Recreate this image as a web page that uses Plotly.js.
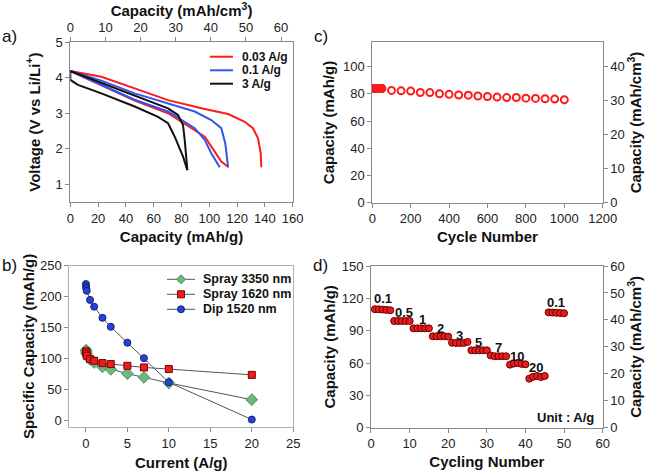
<!DOCTYPE html>
<html>
<head>
<meta charset="utf-8">
<script src="https://cdn.plot.ly/plotly-3.0.1.min.js"></script>
<style>html,body{margin:0;padding:0;background:#fff;}#chart{width:647px;height:473px;}</style>
</head>
<body>
<div id="chart"></div>
<script>
// ---------- Panel a: voltage profiles ----------
var aRed1X = [0, 10, 22.3, 46.3, 70.3, 94.3, 113.5, 125.5, 131.4, 135, 137, 137.4];
var aRed1Y = [4.19, 4.12, 4.03, 3.70, 3.37, 3.14, 2.98, 2.76, 2.58, 2.30, 1.87, 1.48];
var aRed2X = [0, 22.3, 46.3, 70.3, 79.9, 89.5, 96.7, 103.9, 108.6, 113.9];
var aRed2Y = [4.19, 3.78, 3.36, 3.00, 2.76, 2.53, 2.34, 1.92, 1.64, 1.48];
var aBlue1X = [0, 22.3, 46.3, 70.3, 89.5, 101.4, 108.6, 111.5, 113.5];
var aBlue1Y = [4.19, 3.92, 3.56, 3.28, 3.05, 2.81, 2.58, 2.15, 1.48];
var aBlue2X = [0, 22.3, 46.3, 70.3, 79.9, 89.5, 96.7, 101.4, 107.5];
var aBlue2Y = [4.19, 3.80, 3.38, 3.05, 2.81, 2.58, 2.25, 1.87, 1.48];
var aBlack1X = [0, 22.3, 46.3, 70.3, 77.5, 81.1, 82.3, 84.2];
var aBlack1Y = [4.19, 3.85, 3.49, 3.14, 2.95, 2.67, 2.25, 1.40];
var aBlack2X = [0, 0, 5.5, 22.3, 46.3, 63.1, 70.3, 75.1, 81.1, 84.2];
var aBlack2Y = [4.19, 3.94, 3.80, 3.56, 3.19, 2.90, 2.72, 2.34, 1.78, 1.40];
var aLegend = ["0.03 A/g", "0.1 A/g", "3 A/g"];

// ---------- Panel b: rate capability ----------
var bGreenX = [0.03, 0.05, 0.1, 0.5, 1, 2, 3, 5, 7, 10, 20];
var bGreenY = [114, 111, 108, 99, 94, 87, 83, 76, 70, 61, 34];
var bRedX = [0.03, 0.05, 0.1, 0.5, 1, 2, 3, 5, 7, 10, 20];
var bRedY = [112, 108.6, 105, 99.5, 96.8, 93, 91.4, 88.7, 86, 83.4, 74];
var bBlueX = [0.01, 0.03, 0.05, 0.1, 0.5, 1, 2, 3, 5, 7, 10, 20];
var bBlueY = [220.5, 216.6, 213.4, 209.7, 195, 184, 166, 151.6, 126, 101, 62, 2];
var bNames = ["Spray 3350 nm", "Spray 1620 nm", "Dip 1520 nm"];

// ---------- Panel c: cycling ----------
var cCycle = [1, 4, 7, 10, 13, 16, 19, 22, 25, 28, 31, 34, 37, 40, 43, 46, 50,
  100, 150, 200, 250, 300, 350, 400, 450, 500, 550, 600, 650, 700, 750, 800, 850, 900, 950, 1000];
var cCap = [84, 84, 84, 84, 84, 84, 84, 84, 84, 84, 84, 84, 84, 84, 84, 84, 84,
  82.6, 82.3, 82.1, 81.1, 81.0, 80.1, 79.7, 79.2, 79.1, 78.5, 78.1, 77.7, 77.3, 77.4, 76.9, 76.7, 76.5, 76.2, 75.7];

// ---------- Panel d: rate cycling ----------
var dCycle = [1,2,3,4,5,6,7,8,9,10,11,12,13,14,15,16,17,18,19,20,21,22,23,24,25,
  26,27,28,29,30,31,32,33,34,35,36,37,38,39,40,41,42,43,44,45,46,47,48,49,50];
var dCap = [110,109.8,109.6,109.3,109, 99,99,99,99,99, 92.2,92.2,92.2,92.2,92.2,
  84.8,84.8,84.8,84.8,84.5, 78.8,78.6,78.6,78.6,79.6, 71.8,71.8,71.8,71.8,71.8,
  67,66.3,66.3,66.3,66.3, 58.5,59.5,60,59.2,58.8, 45.5,47.2,48,47,48,
  107,106.8,106.6,106.4,106.2];
var dRateLabels = ["0.1", "0.5", "1", "2", "3", "5", "7", "10", "20", "0.1"];
var dRateX = [3.2, 8.5, 13.3, 17.9, 22.9, 27.8, 33, 37.9, 42.7, 47.9];
var dRateY = [120, 106.7, 100.5, 91.9, 85.7, 78.9, 74.6, 66.5, 56, 116];

var W = 647, H = 473;
function px(X){ return X / W; }
function py(Y){ return 1 - Y / H; }

var FONT = "Liberation Sans, Arial, sans-serif";
var tickFont = {family: FONT, size: 13, color: "#222"};
var titleFont = {family: FONT, size: 15, color: "#111", weight: "bold"};
var axisBase = {
  showgrid: false, zeroline: false, showline: true, linecolor: "#8a8a8a", linewidth: 1,
  ticks: "outside", ticklen: 4, tickcolor: "#8a8a8a", tickfont: tickFont, automargin: false
};
function ax(o){ var r = {}; for (var k in axisBase) r[k] = axisBase[k]; for (var k2 in o) r[k2] = o[k2]; return r; }

var RED = "#ff1a1a", BLUE = "#3355ee", BLACK = "#111111";

var traces = [
  {x: aRed1X, y: aRed1Y, xaxis: "x", yaxis: "y", mode: "lines", line: {color: RED, width: 2}},
  {x: aRed2X, y: aRed2Y, xaxis: "x", yaxis: "y", mode: "lines", line: {color: RED, width: 2}},
  {x: aBlue1X, y: aBlue1Y, xaxis: "x", yaxis: "y", mode: "lines", line: {color: BLUE, width: 2}},
  {x: aBlue2X, y: aBlue2Y, xaxis: "x", yaxis: "y", mode: "lines", line: {color: BLUE, width: 2}},
  {x: aBlack1X, y: aBlack1Y, xaxis: "x", yaxis: "y", mode: "lines", line: {color: BLACK, width: 2}},
  {x: aBlack2X, y: aBlack2Y, xaxis: "x", yaxis: "y", mode: "lines", line: {color: BLACK, width: 2}},
  {x: [], y: [], xaxis: "x5", yaxis: "y", mode: "lines"},
  // panel c
  {x: cCycle, y: cCap, xaxis: "x2", yaxis: "y2", mode: "markers",
   marker: {symbol: "circle-open", size: 7, color: RED, line: {width: 2, color: RED}}},
  {x: [], y: [], xaxis: "x2", yaxis: "y6", mode: "markers"},
  // panel b
  {x: bGreenX, y: bGreenY, name: bNames[0], xaxis: "x3", yaxis: "y3", mode: "lines+markers",
   line: {color: "#555", width: 1}, marker: {symbol: "diamond", size: 9, color: "#6db77f", line: {color: "#4d8f5d", width: 1}}},
  {x: bRedX, y: bRedY, name: bNames[1], xaxis: "x3", yaxis: "y3", mode: "lines+markers",
   line: {color: "#555", width: 1}, marker: {symbol: "square", size: 7, color: "#ee1c1c", line: {color: "#7a0000", width: 1}}},
  {x: bBlueX, y: bBlueY, name: bNames[2], xaxis: "x3", yaxis: "y3", mode: "lines+markers",
   line: {color: "#555", width: 1}, marker: {symbol: "circle", size: 7, color: "#2244dd", line: {color: "#16206e", width: 1}}},
  // panel d
  {x: dCycle, y: dCap, xaxis: "x4", yaxis: "y4", mode: "markers",
   marker: {symbol: "circle", size: 7, color: "#e81c1c", line: {color: "#6a0000", width: 1}}},
  {x: [], y: [], xaxis: "x4", yaxis: "y7", mode: "markers"}
];

var layout = {
  width: W, height: H, showlegend: false,
  margin: {l: 0, r: 0, t: 0, b: 0},
  paper_bgcolor: "#fff", plot_bgcolor: "#fff",
  font: {family: FONT, color: "#222"},
  // panel a
  xaxis: ax({domain: [0.1087, 0.4524], anchor: "y", range: [0, 160], dtick: 20, tick0: 0,
    title: {text: "Capacity (mAh/g)", font: titleFont, standoff: 6}}),
  yaxis: ax({domain: [0.5729, 0.9106], anchor: "x", range: [0.5, 5], dtick: 1, tick0: 0, mirror: true,
    title: {text: "Voltage (V vs Li/Li<sup>+</sup>)", font: titleFont, standoff: 11}}),
  xaxis5: ax({overlaying: "x", side: "top", anchor: "y", range: [0, 63.33], dtick: 10, tick0: 0,
    title: {text: "Capacity (mAh/cm<sup>3</sup>)", font: titleFont, standoff: 0}}),
  // panel c
  xaxis2: ax({domain: [0.5754, 0.9315], anchor: "y2", range: [0, 1200], dtick: 200, tick0: 0, mirror: true,
    title: {text: "Cycle Number", font: titleFont, standoff: 6}}),
  yaxis2: ax({domain: [0.5715, 0.9106], anchor: "x2", range: [0, 118], dtick: 20, tick0: 0,
    title: {text: "Capacity (mAh/g)", font: titleFont, standoff: 4}}),
  yaxis6: ax({overlaying: "y2", side: "right", anchor: "x2", range: [0, 47.2], dtick: 10, tick0: 0,
    title: {text: "Capacity (mAh/cm<sup>3</sup>)", font: titleFont, standoff: 6}}),
  // panel b
  xaxis3: ax({domain: [0.1071, 0.4533], anchor: "y3", range: [-2, 25], dtick: 5, tick0: 0, mirror: true,
    linecolor: "#b0b0b0", title: {text: "Current (A/g)", font: titleFont, standoff: 7}}),
  yaxis3: ax({domain: [0.0973, 0.4381], anchor: "x3", range: [-10, 250], dtick: 50, tick0: 0, mirror: true,
    linecolor: "#b0b0b0", title: {text: "Specific Capacity (mAh/g)", font: titleFont, standoff: 1}}),
  // panel d
  xaxis4: ax({domain: [0.5734, 0.9315], anchor: "y4", range: [0, 60], dtick: 10, tick0: 0, mirror: true,
    title: {text: "Cycling Number", font: titleFont, standoff: 6}}),
  yaxis4: ax({domain: [0.0958, 0.4376], anchor: "x4", range: [0, 150], dtick: 30, tick0: 0,
    title: {text: "Capacity (mAh/g)", font: titleFont, standoff: 2}}),
  yaxis7: ax({overlaying: "y4", side: "right", anchor: "x4", range: [0, 60], dtick: 10, tick0: 0,
    title: {text: "Capacity (mAh/cm<sup>3</sup>)", font: titleFont, standoff: 6}}),
  shapes: [],
  annotations: []
};

// panel labels
var panelLabels = ["a)", "c)", "b)", "d)"];
var panelPos = [[9, 36.5], [321, 36.5], [9, 265.7], [320, 265.5]];
panelLabels.forEach(function(t, i){
  layout.annotations.push({text: t, xref: "paper", yref: "paper", x: px(panelPos[i][0]), y: py(panelPos[i][1]),
    xanchor: "center", yanchor: "middle", showarrow: false, font: {family: FONT, size: 17, color: "#111"}});
});

// panel a legend (manual)
var aLegColors = [RED, BLUE, BLACK];
var aLegRows = [56.7, 70.3, 83.7];
aLegend.forEach(function(t, i){
  layout.shapes.push({type: "line", xref: "paper", yref: "paper", x0: px(210), x1: px(233),
    y0: py(aLegRows[i]), y1: py(aLegRows[i]), line: {color: aLegColors[i], width: 2}});
  layout.annotations.push({text: t, xref: "paper", yref: "paper", x: px(240), y: py(aLegRows[i]),
    xanchor: "left", yanchor: "middle", showarrow: false,
    font: {family: FONT, size: 12, color: "#111", weight: "bold"}});
});

// panel b legend (manual)
var bLegRows = [279.3, 294.3, 309.3];
var bLegMarkers = [
  {type: "path", fill: "#6db77f", line: "#4d8f5d"},
  {type: "rect", fill: "#ee1c1c", line: "#7a0000"},
  {type: "circle", fill: "#2244dd", line: "#16206e"}
];
bNames.forEach(function(t, i){
  var yy = py(bLegRows[i]);
  layout.shapes.push({type: "line", xref: "paper", yref: "paper", x0: px(167), x1: px(195),
    y0: yy, y1: yy, line: {color: "#555", width: 1}});
  var m = bLegMarkers[i];
  var s = {type: m.type, xref: "paper", yref: "paper", xsizemode: "pixel", ysizemode: "pixel",
    xanchor: px(181), yanchor: yy, fillcolor: m.fill, line: {color: m.line, width: 1}};
  if (m.type === "path") { s.path = "M0,4.5 L4.5,0 L0,-4.5 L-4.5,0 Z"; }
  else { s.x0 = -3.5; s.x1 = 3.5; s.y0 = -3.5; s.y1 = 3.5; }
  layout.shapes.push(s);
  layout.annotations.push({text: t, xref: "paper", yref: "paper", x: px(201), y: yy,
    xanchor: "left", yanchor: "middle", showarrow: false,
    font: {family: FONT, size: 12.5, color: "#111", weight: "bold"}});
});

// panel d rate labels
dRateLabels.forEach(function(t, i){
  layout.annotations.push({text: t, xref: "x4", yref: "y4", x: dRateX[i], y: dRateY[i],
    xanchor: "center", yanchor: "middle", showarrow: false,
    font: {family: FONT, size: 13, color: "#111", weight: "bold"}});
});
layout.annotations.push({text: "Unit : A/g", xref: "x4", yref: "y4", x: 50.3, y: 9.6,
  xanchor: "center", yanchor: "middle", showarrow: false,
  font: {family: FONT, size: 13, color: "#111", weight: "bold"}});

Plotly.newPlot("chart", traces, layout, {staticPlot: true, displayModeBar: false});
</script>
</body>
</html>
